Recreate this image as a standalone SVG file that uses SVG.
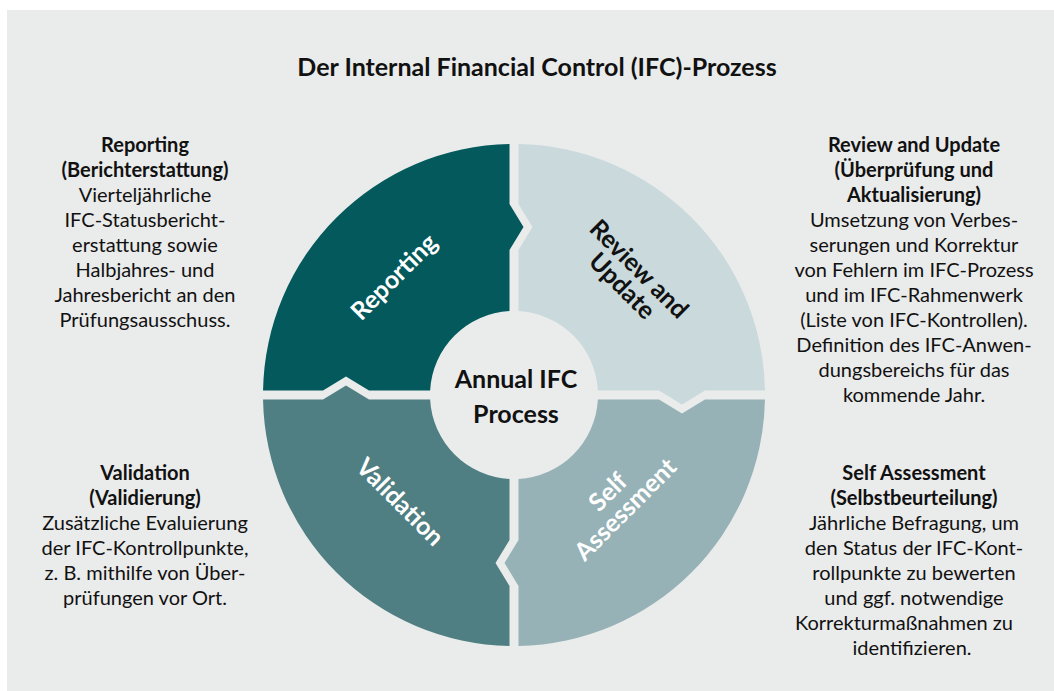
<svg xmlns="http://www.w3.org/2000/svg" width="1054" height="691" viewBox="0 0 1054 691">
<style>
.t{font-family:Lato,"Open Sans","Liberation Sans",sans-serif;fill:#111;text-anchor:middle}
.b{font-weight:bold}
.body{font-size:20px}
.lbl{font-size:25px;font-weight:bold}
.title{font-size:25px;font-weight:bold}
</style>
<defs>
<path id="q" d="M263.04 390.5 A251 251 0 0 1 509.5 144.04 L509.5 204 L523.5 227 L509.5 250 L509.5 311.12 A84 84 0 0 0 430.12 390.5 L369 390.5 L346 376.5 L323 390.5 Z"/>
</defs>
<rect x="7" y="10" width="1047" height="681" fill="#eaebeb"/>
<text class="t title" x="537" y="76">Der Internal Financial Control (IFC)-Prozess</text>
<g id="connectors"></g>
<g id="reporting">
<use href="#q" fill="#03595b"/>
<text class="t lbl" fill="#fff" style="fill:#fff" transform="translate(400 283) rotate(-45)" x="0" y="0">Reporting</text>
</g>
<g id="review">
<use href="#q" fill="#c9d9dc" transform="rotate(90 514 395)"/>
<text class="t lbl" transform="translate(633 275) rotate(45)"><tspan x="0" y="0">Review and</tspan><tspan x="0" y="24">Update</tspan></text>
</g>
<g id="self-assessment">
<use href="#q" fill="#96b2b6" transform="rotate(180 514 395)"/>
<text class="t lbl" style="fill:#fff" transform="translate(614 498) rotate(-45)"><tspan x="0" y="0">Self</tspan><tspan x="0" y="24.7">Assessment</tspan></text>
</g>
<g id="validation">
<use href="#q" fill="#4f7f82" transform="rotate(270 514 395)"/>
<text class="t lbl" style="fill:#fff" transform="translate(394 508) rotate(45)" x="0" y="0">Validation</text>
</g>
<g id="center">
<circle cx="514" cy="395" r="79" fill="#eaebeb"/>
<text class="t lbl"><tspan x="516" y="388">Annual IFC</tspan><tspan x="516" y="423">Process</tspan></text>
</g>
<g id="desc-reporting">
<text class="t body"><tspan class="b" x="145" y="152">Reporting</tspan><tspan class="b" x="145" y="177">(Berichterstattung)</tspan><tspan x="145" y="202">Vierteljährliche</tspan><tspan x="145" y="227">IFC-Statusbericht-</tspan><tspan x="145" y="252">erstattung sowie</tspan><tspan x="145" y="277">Halbjahres- und</tspan><tspan x="145" y="302">Jahresbericht an den</tspan><tspan x="145" y="327">Prüfungsausschuss.</tspan></text>
</g>
<g id="desc-review">
<text class="t body"><tspan class="b" x="914" y="152">Review and Update</tspan><tspan class="b" x="914" y="177">(Überprüfung und</tspan><tspan class="b" x="914" y="202">Aktualisierung)</tspan><tspan x="914" y="227">Umsetzung von Verbes-</tspan><tspan x="914" y="252">serungen und Korrektur</tspan><tspan x="914" y="277">von Fehlern im IFC-Prozess</tspan><tspan x="914" y="302">und im IFC-Rahmenwerk</tspan><tspan x="914" y="327">(Liste von IFC-Kontrollen).</tspan><tspan x="914" y="352">Definition des IFC-Anwen-</tspan><tspan x="914" y="377">dungsbereichs für das</tspan><tspan x="914" y="402">kommende Jahr.</tspan></text>
</g>
<g id="desc-validation">
<text class="t body"><tspan class="b" x="145" y="480">Validation</tspan><tspan class="b" x="145" y="505">(Validierung)</tspan><tspan x="145" y="530">Zusätzliche Evaluierung</tspan><tspan x="145" y="555">der IFC-Kontrollpunkte,</tspan><tspan x="145" y="580">z. B. mithilfe von Über-</tspan><tspan x="145" y="605">prüfungen vor Ort.</tspan></text>
</g>
<g id="desc-self">
<text class="t body"><tspan class="b" x="914" y="480">Self Assessment</tspan><tspan class="b" x="914" y="505">(Selbstbeurteilung)</tspan><tspan x="914" y="530">Jährliche Befragung, um</tspan><tspan x="914" y="555">den Status der IFC-Kont-</tspan><tspan x="914" y="580">rollpunkte zu bewerten</tspan><tspan x="914" y="605">und ggf. notwendige</tspan><tspan x="904" y="630">Korrekturmaßnahmen zu</tspan><tspan x="912" y="655">identifizieren.</tspan></text>
</g>
</svg>
